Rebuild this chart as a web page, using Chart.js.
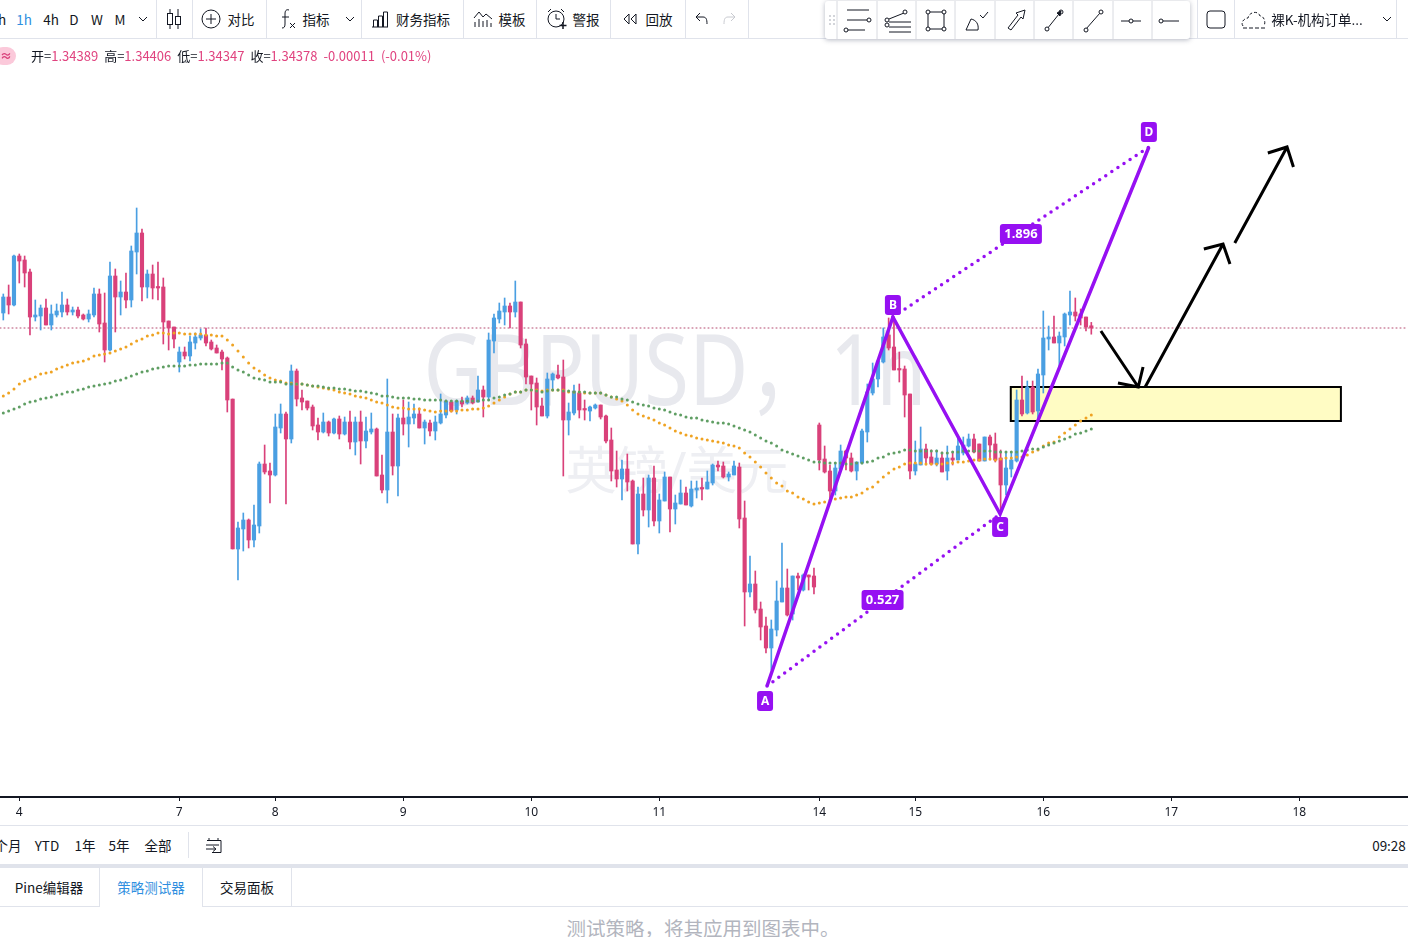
<!DOCTYPE html>
<html>
<head>
<meta charset="utf-8">
<title>GBPUSD 1h</title>
<script src="https://cdn.jsdelivr.net/npm/chart.js@4"></script>
<style>
html, body { margin: 0; padding: 0; background: #fff; overflow: hidden; }
body { width: 1408px; height: 937px; position: relative; font-family: "Noto Sans CJK SC", "Noto Sans", sans-serif; color: #131722; }
#chart-box { position: absolute; left: 0; top: 40px; width: 1408px; height: 785px; z-index: 2; }
.t { position: absolute; font-size: 13.5px; line-height: 18px; white-space: nowrap; transform: translateX(-50%); z-index: 3; }
.sep { position: absolute; width: 1px; background: #e0e3eb; z-index: 3; }
.hline { position: absolute; left: 0; width: 1408px; height: 1px; background: #e0e3eb; z-index: 3; }
svg.i { position: absolute; z-index: 4; fill: none; stroke: #131722; stroke-width: 1; }
.wm { position: absolute; z-index: 1; white-space: nowrap; font-family: "Noto Sans", "Noto Sans CJK SC", sans-serif; }
#float-bar { position: absolute; left: 825px; top: 1px; width: 365px; height: 38px; background: #fff; border-radius: 3px; box-shadow: 0 1px 5px rgba(40,50,80,.35); z-index: 3; }
#legend { position: absolute; left: 31px; top: 47px; font-size: 13px; line-height: 18px; z-index: 3; white-space: nowrap; color: #e0437f; }
#legend b { font-weight: 400; color: #131722; }
#legend span { margin-right: 6px; }
#pill { position: absolute; left: -6px; top: 47px; width: 22px; height: 18px; border-radius: 9px; background: #fbc9da; color: #d9417a; font-size: 12px; line-height: 18px; text-align: center; font-weight: 700; z-index: 3; padding-left: 2px; box-sizing: border-box; }
</style>
</head>
<body>

<div class="wm" style="left:675px;top:302px;font-size:98px;line-height:130px;color:#e8e9ee;transform:translateX(-50%) scaleX(.83);">GBPUSD，1h</div>
<div class="wm" style="left:677px;top:434px;font-size:51px;line-height:70px;color:#eeeff3;transform:translateX(-50%);">英镑/美元</div>

<!-- top toolbar -->
<div class="hline" style="top:38px;"></div>
<div class="t" style="left:2px;top:10px;">h</div>
<div class="t" style="left:24px;top:10px;color:#2f8fe0;">1h</div>
<div class="t" style="left:51px;top:10px;">4h</div>
<div class="t" style="left:74px;top:10px;">D</div>
<div class="t" style="left:97px;top:10px;">W</div>
<div class="t" style="left:120px;top:10px;">M</div>
<svg class="i" style="left:138px;top:16px;" width="10" height="6"><path d="M1 1l4 4 4-4"/></svg>
<div class="sep" style="left:156px;top:0;height:38px;"></div>
<svg class="i" style="left:166px;top:8px;" width="16" height="22"><path d="M4 1v20M12 1v20"/><rect x="1.5" y="5.5" width="5" height="11" fill="#fff"/><rect x="9.5" y="8.5" width="5" height="8" fill="#fff"/></svg>
<div class="sep" style="left:192px;top:0;height:38px;"></div>
<svg class="i" style="left:201px;top:9px;" width="20" height="20"><circle cx="10" cy="10" r="9"/><path d="M10 5v10M5 10h10"/></svg>
<div class="t" style="left:241px;top:10px;">对比</div>
<div class="sep" style="left:266px;top:0;height:38px;"></div>
<svg class="i" style="left:279px;top:8px;" width="18" height="22"><path d="M10 2c-3-1-4 1-4 4v10c0 3-1 4-3 4M3 9h7M11 15l5 5M16 15l-5 5"/></svg>
<div class="t" style="left:316px;top:10px;">指标</div>
<svg class="i" style="left:345px;top:16px;" width="10" height="6"><path d="M1 1l4 4 4-4"/></svg>
<div class="sep" style="left:361px;top:0;height:38px;"></div>
<svg class="i" style="left:371px;top:10px;" width="18" height="18"><path d="M1 17h16M2.500 17v-7h4v7M7.500 17v-11h4v11M12.500 17v-15h4v15"/></svg>
<div class="t" style="left:423px;top:10px;">财务指标</div>
<div class="sep" style="left:463px;top:0;height:38px;"></div>
<svg class="i" style="left:473px;top:10px;" width="20" height="18"><path d="M1 8l5-6 4 5 3-3 6 5M2 17v-5M6 17v-8M10 17v-6M14 17v-7M18 17v-4"/></svg>
<div class="t" style="left:512px;top:10px;">模板</div>
<div class="sep" style="left:536px;top:0;height:38px;"></div>
<svg class="i" style="left:546px;top:8px;" width="22" height="22"><circle cx="10" cy="11" r="8"/><path d="M10 6v5h4M2 4l3-3M15 1l3 3"/><path d="M17 14v7M13.500 17.500h7" stroke-width="1.500"/></svg>
<div class="t" style="left:586px;top:10px;">警报</div>
<div class="sep" style="left:610px;top:0;height:38px;"></div>
<svg class="i" style="left:622px;top:13px;" width="16" height="12"><path d="M7 1l-5 5 5 5zM14 1l-5 5 5 5z"/></svg>
<div class="t" style="left:659px;top:10px;">回放</div>
<div class="sep" style="left:685px;top:0;height:38px;"></div>
<svg class="i" style="left:694px;top:12px;" width="15" height="14"><path d="M6 1l-4 4 4 4M2 5h7c3 0 4 2 4 7"/></svg>
<svg class="i" style="left:722px;top:12px;stroke:#c8cad0;" width="15" height="14"><path d="M9 1l4 4-4 4M13 5h-7c-3 0-4 2-4 7"/></svg>
<div class="sep" style="left:748px;top:0;height:38px;"></div>

<!-- floating drawing bar -->
<div id="float-bar"></div>
<svg class="i" style="left:825px;top:1px;" width="365" height="38" id="float-icons">
  <g stroke="#d8dae0"><path d="M12 0v38M52 0v38M91 0v38M130 0v38M170 0v38M209 0v38M248 0v38M288 0v38M327 0v38"/></g>
  <g fill="#c4c7ce" stroke="none"><circle cx="5" cy="15" r="1"/><circle cx="9" cy="15" r="1"/><circle cx="5" cy="19" r="1"/><circle cx="9" cy="19" r="1"/><circle cx="5" cy="23" r="1"/><circle cx="9" cy="23" r="1"/></g>
  <path d="M22 9h22M22 19h20M22 29h18"/><circle cx="44" cy="19" r="2" fill="#fff"/><circle cx="21" cy="29" r="2" fill="#fff"/>
  <path d="M64 18l15-6M64 21h22M64 26h22M64 31h22"/><circle cx="62" cy="19" r="2" fill="#fff"/><circle cx="80" cy="11" r="2" fill="#fff"/><circle cx="62" cy="24" r="2" fill="#fff"/>
  <rect x="103" y="11" width="16" height="17"/><circle cx="103" cy="11" r="2" fill="#fff"/><circle cx="119" cy="11" r="2" fill="#fff"/><circle cx="103" cy="28" r="2" fill="#fff"/><circle cx="119" cy="28" r="2" fill="#fff"/>
  <path d="M141 29l5-11c5 1 8 5 7 11zM155 14l3 3 5-6"/>
  <path d="M183 27l10-13-2-2 9-3-2 9-2-2-10 13z"/>
  <path d="M222 28l12-15"/><circle cx="222" cy="28" r="2" fill="#fff"/><circle cx="236" cy="11" r="2" fill="#fff"/><path d="M232 12l4-2-1 5z" fill="#131722"/>
  <path d="M261 28l14-16"/><circle cx="261" cy="29" r="2" fill="#fff"/><circle cx="276" cy="11" r="2" fill="#fff"/>
  <path d="M296 20h20"/><circle cx="306" cy="20" r="2" fill="#fff"/>
  <path d="M338 20h16"/><circle cx="336" cy="20" r="2" fill="#fff"/>
</svg>
<svg class="i" style="left:1206px;top:10px;" width="20" height="20"><rect x="1" y="1" width="18" height="17" rx="3"/></svg>
<svg class="i" style="left:1241px;top:10px;" width="26" height="20"><path d="M2 16c-3-4 2-8 5-8 1-6 10-8 12-2 4 0 6 6 4 10" stroke-dasharray="3 2"/><path d="M2 18h22" stroke-dasharray="4 2"/></svg>
<div class="t" style="left:1317px;top:10px;">裸K-机构订单...</div>
<svg class="i" style="left:1382px;top:16px;" width="10" height="6"><path d="M1 1l4 4 4-4"/></svg>
<div class="sep" style="left:1197px;top:0;height:38px;"></div>
<div class="sep" style="left:1234px;top:0;height:38px;"></div>
<div class="sep" style="left:1396px;top:0;height:38px;"></div>

<!-- legend line -->
<div id="pill">≈</div>
<div id="legend"><span><b>开=</b>1.34389</span><span><b>高=</b>1.34406</span><span><b>低=</b>1.34347</span><span><b>收=</b>1.34378</span><span>-0.00011</span><span>(-0.01%)</span></div>

<div id="chart-box"><canvas id="chart" width="1408" height="785"></canvas></div>

<!-- range bar and tabs -->
<div class="hline" style="top:825px;"></div>
<div class="t" style="left:8px;top:836px;">个月</div>
<div class="t" style="left:47px;top:836px;">YTD</div>
<div class="t" style="left:85px;top:836px;">1年</div>
<div class="t" style="left:119px;top:836px;">5年</div>
<div class="t" style="left:158px;top:836px;">全部</div>
<div class="sep" style="left:188px;top:832px;height:26px;"></div>
<svg class="i" style="left:205px;top:837px;" width="18" height="17"><path d="M4 1v3M13 1v3M2 3.500h14v12h-9M16 3.500M1 8h13M1 12h9M8 9.500l3 2.500-3 2.500"/></svg>
<div class="t" style="left:1389px;top:836px;">09:28</div>

<div class="hline" style="top:864px;height:4px;"></div>
<div class="hline" style="top:906px;"></div>
<div style="position:absolute;left:100px;top:900px;width:102px;height:8px;background:#fff;z-index:3;"></div>
<div class="sep" style="left:99px;top:868px;height:39px;"></div>
<div class="sep" style="left:202px;top:868px;height:39px;"></div>
<div class="sep" style="left:291px;top:868px;height:39px;"></div>
<div class="t" style="left:49px;top:878px;">Pine编辑器</div>
<div class="t" style="left:151px;top:878px;color:#2f8fe0;">策略测试器</div>
<div class="t" style="left:247px;top:878px;">交易面板</div>
<div class="t" style="left:703px;top:915px;font-size:19.500px;line-height:26px;color:#b2b5be;">测试策略，将其应用到图表中。</div>

<script>
// prices below are in points above 1.32000
const opens = [
  2453, 2533, 2493, 2738, 2718, 2658, 2433, 2438, 2478, 2393,
  2443, 2458, 2493, 2458, 2468, 2443, 2423, 2443, 2548, 2403,
  2268, 2638, 2533, 2558, 2518, 2758, 2853, 2583, 2648, 2583,
  2583, 2413, 2383, 2208, 2258, 2238, 2303, 2328, 2343, 2308,
  2278, 2258, 2228, 2023, 1273, 1373, 1418, 1318, 1388, 1698,
  1663, 1643, 1878, 1948, 1823, 2163, 2028, 2013, 1983, 1893,
  1858, 1908, 1853, 1923, 1848, 1908, 1808, 1908, 1813, 1858,
  1873, 1643, 1568, 1858, 1688, 1928, 1898, 1928, 1948, 1878,
  1903, 1863, 1903, 1943, 2008, 1968, 2013, 2003, 2028, 2008,
  2068, 2033, 2313, 2423, 2458, 2488, 2458, 2508, 2298, 2138,
  2103, 1988, 1938, 2118, 2143, 2133, 1918, 1953, 2053, 1973,
  1963, 1978, 1993, 1938, 1818, 1668, 1623, 1673, 1613, 1298,
  1548, 1468, 1628, 1413, 1513, 1633, 1473, 1498, 1553, 1488,
  1568, 1578, 1573, 1603, 1693, 1688, 1633, 1643, 1683, 1428,
  1058, 1098, 973, 888, 778, 868, 1008, 1078, 948, 1138,
  1068, 1143, 1138, 1893, 1723, 1663, 1563, 1673, 1763, 1728,
  1663, 1703, 1858, 2053, 2123, 2208, 2343, 2283, 2173, 2173,
  2048, 1663, 1693, 1773, 1733, 1698, 1728, 1663, 1728, 1718,
  1753, 1788, 1823, 1798, 1713, 1833, 1798, 1728, 1593, 1673,
  1713, 2018, 1953, 2083, 1963, 2143, 2323, 2333, 2303, 2333,
  2443, 2458, 2448, 2433, 2389
];
const closes = [
  2533, 2493, 2738, 2713, 2653, 2433, 2443, 2478, 2393, 2448,
  2463, 2493, 2458, 2468, 2438, 2423, 2448, 2548, 2398, 2268,
  2638, 2533, 2558, 2518, 2763, 2853, 2583, 2648, 2578, 2578,
  2408, 2378, 2323, 2258, 2238, 2308, 2333, 2343, 2303, 2273,
  2253, 2223, 2018, 1273, 1378, 1418, 1318, 1393, 1698, 1658,
  1643, 1883, 1948, 1823, 2163, 2023, 2008, 1978, 1888, 1858,
  1908, 1853, 1923, 1848, 1908, 1808, 1908, 1813, 1863, 1873,
  1638, 1568, 1858, 1688, 1928, 1898, 1933, 1948, 1878, 1908,
  1863, 1908, 1948, 2013, 1963, 2013, 1998, 2028, 2003, 2068,
  2033, 2318, 2428, 2463, 2488, 2458, 2508, 2293, 2133, 2098,
  1983, 1938, 2123, 2148, 2128, 1918, 1958, 2063, 1968, 1968,
  1983, 1993, 1933, 1813, 1663, 1623, 1673, 1608, 1298, 1548,
  1468, 1628, 1413, 1518, 1633, 1473, 1503, 1553, 1493, 1573,
  1578, 1573, 1608, 1693, 1683, 1633, 1648, 1688, 1423, 1058,
  1098, 968, 883, 778, 873, 1013, 1078, 943, 1138, 1128,
  1143, 1133, 1083, 1718, 1658, 1563, 1678, 1763, 1728, 1663,
  1708, 1863, 2058, 2123, 2213, 2333, 2278, 2168, 2168, 2043,
  1663, 1698, 1773, 1728, 1698, 1728, 1658, 1728, 1718, 1788,
  1793, 1823, 1758, 1713, 1833, 1793, 1718, 1593, 1678, 1718,
  2018, 1948, 2083, 1958, 2148, 2328, 2333, 2303, 2338, 2448,
  2458, 2438, 2428, 2383, 2378
];
const highs = [
  2548, 2593, 2743, 2748, 2738, 2673, 2518, 2493, 2523, 2493,
  2498, 2558, 2523, 2483, 2483, 2448, 2468, 2578, 2573, 2553,
  2708, 2673, 2613, 2653, 2788, 2978, 2873, 2668, 2693, 2708,
  2628, 2413, 2383, 2283, 2283, 2338, 2353, 2373, 2378, 2318,
  2293, 2268, 2233, 2023, 1408, 1453, 1423, 1493, 1708, 1793,
  1703, 1948, 1998, 1958, 2193, 2173, 2068, 2013, 1993, 1928,
  1953, 1913, 1928, 1938, 1933, 1963, 1933, 1963, 1933, 1953,
  1878, 1743, 2123, 1948, 1948, 2018, 2008, 1998, 1978, 1918,
  1918, 1938, 2048, 2018, 2013, 2018, 2033, 2038, 2038, 2138,
  2088, 2353, 2448, 2503, 2528, 2503, 2613, 2508, 2323, 2138,
  2128, 2028, 2153, 2153, 2193, 2218, 2003, 2093, 2098, 2018,
  1988, 1998, 1993, 1943, 1878, 1763, 1718, 1748, 1618, 1583,
  1628, 1643, 1688, 1548, 1658, 1633, 1543, 1618, 1583, 1613,
  1613, 1628, 1663, 1698, 1713, 1708, 1658, 1713, 1703, 1513,
  1238, 1163, 1008, 933, 918, 1113, 1303, 1173, 1138, 1153,
  1148, 1143, 1178, 1903, 1788, 1693, 1703, 1793, 1768, 1753,
  1708, 1873, 2098, 2203, 2218, 2378, 2428, 2418, 2258, 2188,
  2048, 1813, 1883, 1798, 1768, 1768, 1758, 1788, 1758, 1838,
  1833, 1848, 1848, 1798, 1833, 1843, 1853, 1768, 1758, 1758,
  2068, 2138, 2113, 2113, 2173, 2463, 2388, 2438, 2358, 2453,
  2563, 2528, 2473, 2433, 2406
];
const lows = [
  2418, 2448, 2488, 2603, 2583, 2343, 2413, 2368, 2393, 2368,
  2433, 2433, 2443, 2443, 2428, 2418, 2408, 2433, 2358, 2208,
  2263, 2358, 2443, 2478, 2483, 2648, 2513, 2528, 2523, 2518,
  2298, 2268, 2278, 2158, 2223, 2213, 2273, 2318, 2288, 2268,
  2253, 2168, 1958, 1273, 1118, 1263, 1278, 1283, 1353, 1648,
  1503, 1638, 1853, 1498, 1803, 1988, 1968, 1968, 1868, 1818,
  1853, 1838, 1848, 1823, 1843, 1773, 1743, 1698, 1778, 1848,
  1638, 1553, 1503, 1643, 1538, 1843, 1783, 1898, 1878, 1798,
  1838, 1818, 1898, 1928, 1958, 1948, 1983, 1998, 1998, 2008,
  1933, 2018, 2253, 2403, 2393, 2378, 2433, 2278, 2098, 1968,
  1893, 1938, 1928, 2073, 2123, 1638, 1843, 1943, 1928, 1918,
  1913, 1973, 1923, 1803, 1613, 1583, 1518, 1563, 1298, 1248,
  1438, 1383, 1388, 1353, 1513, 1358, 1398, 1498, 1493, 1483,
  1528, 1518, 1573, 1593, 1663, 1628, 1613, 1643, 1378, 888,
  1033, 953, 818, 753, 668, 838, 1008, 938, 918, 1068,
  1063, 1068, 1048, 1668, 1653, 1518, 1543, 1663, 1668, 1658,
  1618, 1698, 1808, 2043, 2083, 2203, 2268, 2168, 2108, 1933,
  1623, 1643, 1693, 1693, 1693, 1688, 1658, 1618, 1693, 1718,
  1743, 1783, 1753, 1713, 1713, 1718, 1708, 1468, 1543, 1633,
  1708, 1938, 1948, 1948, 1918, 2053, 2268, 2303, 2168, 2288,
  2393, 2413, 2393, 2363, 2347
];
const maFast = [
  2038, 2053, 2073, 2098, 2113, 2123, 2133, 2148, 2153, 2158,
  2173, 2183, 2193, 2203, 2208, 2213, 2223, 2238, 2243, 2248,
  2253, 2263, 2273, 2283, 2298, 2313, 2323, 2338, 2343, 2353,
  2353, 2348, 2353, 2353, 2348, 2348, 2348, 2348, 2343, 2343,
  2338, 2338, 2318, 2293, 2263, 2233, 2203, 2178, 2163, 2143,
  2128, 2118, 2113, 2103, 2103, 2098, 2098, 2093, 2088, 2083,
  2078, 2073, 2068, 2058, 2053, 2048, 2038, 2033, 2028, 2018,
  2008, 2003, 1993, 1983, 1978, 1978, 1973, 1973, 1973, 1968,
  1963, 1958, 1963, 1963, 1963, 1963, 1968, 1968, 1973, 1973,
  1978, 1988, 2003, 2018, 2033, 2048, 2058, 2058, 2068, 2068,
  2068, 2063, 2068, 2068, 2068, 2068, 2058, 2058, 2058, 2053,
  2053, 2053, 2053, 2043, 2033, 2023, 2013, 1993, 1968, 1948,
  1938, 1928, 1918, 1903, 1893, 1878, 1863, 1853, 1843, 1838,
  1828, 1823, 1818, 1813, 1808, 1803, 1793, 1788, 1778, 1753,
  1733, 1708, 1683, 1653, 1628, 1603, 1588, 1563, 1553, 1533,
  1523, 1508, 1498, 1503, 1508, 1518, 1523, 1528, 1533, 1533,
  1543, 1553, 1573, 1583, 1608, 1633, 1653, 1673, 1683, 1698,
  1703, 1703, 1703, 1698, 1698, 1698, 1698, 1703, 1703, 1708,
  1708, 1713, 1718, 1718, 1723, 1723, 1718, 1723, 1728, 1728,
  1733, 1733, 1743, 1758, 1768, 1788, 1803, 1808, 1833, 1853,
  1873, 1893, 1913, 1928, 1943
];
const maSlow = [
  1953, 1963, 1973, 1983, 1998, 2008, 2013, 2023, 2028, 2033,
  2043, 2048, 2058, 2058, 2068, 2073, 2083, 2088, 2093, 2098,
  2103, 2113, 2118, 2128, 2138, 2148, 2158, 2163, 2173, 2178,
  2183, 2188, 2188, 2188, 2188, 2193, 2193, 2198, 2198, 2198,
  2198, 2203, 2203, 2183, 2168, 2158, 2143, 2128, 2123, 2118,
  2108, 2108, 2108, 2098, 2098, 2098, 2098, 2093, 2088, 2088,
  2083, 2078, 2078, 2073, 2073, 2068, 2063, 2063, 2058, 2053,
  2048, 2038, 2038, 2033, 2028, 2028, 2028, 2023, 2023, 2018,
  2018, 2018, 2018, 2013, 2013, 2013, 2013, 2013, 2013, 2013,
  2018, 2018, 2028, 2033, 2043, 2048, 2058, 2058, 2068, 2068,
  2063, 2058, 2063, 2068, 2068, 2063, 2063, 2058, 2058, 2058,
  2053, 2053, 2053, 2043, 2033, 2033, 2023, 2018, 2008, 1998,
  1993, 1988, 1978, 1973, 1968, 1958, 1948, 1943, 1933, 1928,
  1928, 1918, 1913, 1908, 1903, 1903, 1898, 1888, 1878, 1868,
  1858, 1843, 1828, 1813, 1803, 1788, 1768, 1758, 1748, 1738,
  1728, 1718, 1708, 1708, 1703, 1703, 1703, 1703, 1698, 1698,
  1703, 1703, 1708, 1713, 1728, 1733, 1748, 1753, 1758, 1768,
  1768, 1763, 1763, 1763, 1763, 1763, 1753, 1753, 1758, 1758,
  1763, 1763, 1763, 1763, 1763, 1763, 1758, 1758, 1758, 1758,
  1758, 1763, 1768, 1773, 1773, 1783, 1793, 1803, 1813, 1823,
  1833, 1848, 1853, 1863, 1873
];
const dayTickBars = [3, 33, 51, 75, 99, 123, 153, 171, 195, 219, 243];
const dayTickLabels = ['4', '7', '8', '9', '10', '11', '14', '15', '16', '17', '18'];

// ABCD drawing, x in bars
const abcdBars = [143.2, 166.8, 186.9, 214.8];
const abcdPoints = [588, 2433, 1448, 3283];
const abcdNames = ['A', 'B', 'C', 'D'];
const acRatio = '0.527';
const bdRatio = '1.896';

// hand drawn arrows, null breaks the shaft from the head
const arrowOneBars = [205.8, 212.8, null, 209.0, 212.8, 213.7];
const arrowOnePoints = [2363, 2083, null, 2103, 2083, 2183];
const arrowTwoBars = [214.1, 228.7, null, 225.1, 228.7, 230.0];
const arrowTwoPoints = [2083, 2798, null, 2773, 2798, 2698];
const arrowThreeBars = [230.9, 240.7, null, 237.1, 240.7, 241.9];
const arrowThreePoints = [2803, 3283, null, 3253, 3283, 3183];

// yellow zone
const zoneBars = [188.9, 250.8];
const zonePoints = [2083, 1913];

const UP = '#4a9fe2';
const DOWN = '#d9417a';
const PURPLE = '#9610f2';

const toPrice = p => p === null ? null : 1.32 + p / 100000;
const barIdx = opens.map((_, i) => i);
const candleColors = opens.map((o, i) => closes[i] >= o ? UP : DOWN);
const pairUp = (xs, ys) => xs.map((x, i) => ({ x: x, y: toPrice(ys[i]) }));

function lineSet(xs, ys, color, width, order, dash) {
  return {
    type: 'scatter',
    data: pairUp(xs, ys),
    showLine: true,
    spanGaps: false,
    borderColor: color,
    borderWidth: width,
    borderDash: dash || [],
    borderCapStyle: dash ? 'round' : 'butt',
    borderJoinStyle: 'miter',
    pointRadius: 0,
    tension: 0,
    order: order
  };
}

function dotSet(ys, color, order) {
  return {
    type: 'scatter',
    data: pairUp(barIdx, ys),
    showLine: false,
    pointRadius: 1.5,
    pointBorderWidth: 0,
    pointBackgroundColor: color,
    order: order
  };
}

const xMin = -0.62;
const xMax = 263.38;

// box and labels that the datasets can't draw by themselves
const drawingsPlugin = {
  id: 'drawings',
  beforeDatasetsDraw(chart) {
    const ctx = chart.ctx;
    const x = chart.scales.x;
    const y = chart.scales.y;
    const left = x.getPixelForValue(zoneBars[0]);
    const right = x.getPixelForValue(zoneBars[1]);
    const top = y.getPixelForValue(toPrice(zonePoints[0]));
    const bottom = y.getPixelForValue(toPrice(zonePoints[1]));
    ctx.save();
    ctx.fillStyle = '#fffcc4';
    ctx.strokeStyle = '#000';
    ctx.lineWidth = 2;
    ctx.fillRect(left, top, right - left, bottom - top);
    ctx.strokeRect(left, top, right - left, bottom - top);
    ctx.restore();
  },
  afterDatasetsDraw(chart) {
    const ctx = chart.ctx;
    const x = chart.scales.x;
    const y = chart.scales.y;
    const tag = (text, px, py, w, h, font) => {
      ctx.fillStyle = PURPLE;
      ctx.beginPath();
      ctx.roundRect(px - w / 2, py - h / 2, w, h, 3);
      ctx.fill();
      ctx.fillStyle = '#fff';
      ctx.font = font;
      ctx.textAlign = 'center';
      ctx.textBaseline = 'middle';
      ctx.fillText(text, px, py + 0.5);
    };
    ctx.save();
    const offsets = [15, -12, 13, -15];
    abcdNames.forEach((name, i) => {
      tag(name, x.getPixelForValue(abcdBars[i]) - (i === 0 ? 2 : 0), y.getPixelForValue(toPrice(abcdPoints[i])) + offsets[i], 16, 20, '700 12px "Noto Sans", sans-serif');
    });
    const mid = (a, b) => [
      x.getPixelForValue((abcdBars[a] + abcdBars[b]) / 2),
      y.getPixelForValue(toPrice((abcdPoints[a] + abcdPoints[b]) / 2))
    ];
    const ac = mid(0, 2);
    const bd = mid(1, 3);
    tag(acRatio, ac[0] - 1, ac[1], 42, 20, '700 13px "Noto Sans", sans-serif');
    tag(bdRatio, bd[0], bd[1] + 2, 42, 20, '700 13px "Noto Sans", sans-serif');
    ctx.restore();
  }
};

new Chart(document.getElementById('chart'), {
  type: 'bar',
  data: {
    datasets: [
      lineSet(abcdBars, abcdPoints, PURPLE, 3.5, 1),
      lineSet([abcdBars[0], abcdBars[2]], [abcdPoints[0], abcdPoints[2]], PURPLE, 3.5, 1, [0, 7.3]),
      lineSet([abcdBars[1], abcdBars[3]], [abcdPoints[1], abcdPoints[3]], PURPLE, 3.5, 1, [0, 7.3]),
      lineSet(arrowOneBars, arrowOnePoints, '#000', 3, 2),
      lineSet(arrowTwoBars, arrowTwoPoints, '#000', 3, 2),
      lineSet(arrowThreeBars, arrowThreePoints, '#000', 3, 2),
      dotSet(maSlow, '#5f9e63', 3),
      dotSet(maFast, '#efa322', 4),
      {
        data: opens.map((o, i) => ({ x: i, y: [toPrice(o), toPrice(closes[i])] })),
        backgroundColor: candleColors,
        barThickness: 3.5,
        minBarLength: 1.5,
        grouped: false,
        borderSkipped: false,
        order: 5
      },
      {
        data: lows.map((l, i) => ({ x: i, y: [toPrice(l), toPrice(highs[i])] })),
        backgroundColor: candleColors,
        barThickness: 1,
        grouped: false,
        borderSkipped: false,
        order: 6
      },
      // last close price line
      lineSet([xMin, xMax], [closes[204], closes[204]], '#b54a70', 1, 7, [1, 3])
    ]
  },
  options: {
    responsive: false,
    animation: false,
    events: [],
    layout: { padding: 0, autoPadding: false },
    plugins: { legend: { display: false }, tooltip: { enabled: false } },
    scales: {
      x: {
        type: 'linear',
        min: xMin,
        max: xMax,
        offset: false,
        border: { color: '#131722', width: 2 },
        grid: { offset: false, drawOnChartArea: false, drawTicks: true, tickLength: 4, color: '#131722' },
        afterBuildTicks: scale => { scale.ticks = dayTickBars.map(b => ({ value: b })); },
        afterFit: scale => { scale.height = 28; },
        ticks: {
          autoSkip: false,
          maxRotation: 0,
          padding: 4,
          color: '#131722',
          font: { size: 12, family: '"Noto Sans", sans-serif' },
          callback: value => dayTickLabels[dayTickBars.indexOf(value)]
        }
      },
      y: {
        display: false,
        min: toPrice(33),
        max: toPrice(3818)
      }
    }
  },
  plugins: [drawingsPlugin]
});
</script>
</body>
</html>
